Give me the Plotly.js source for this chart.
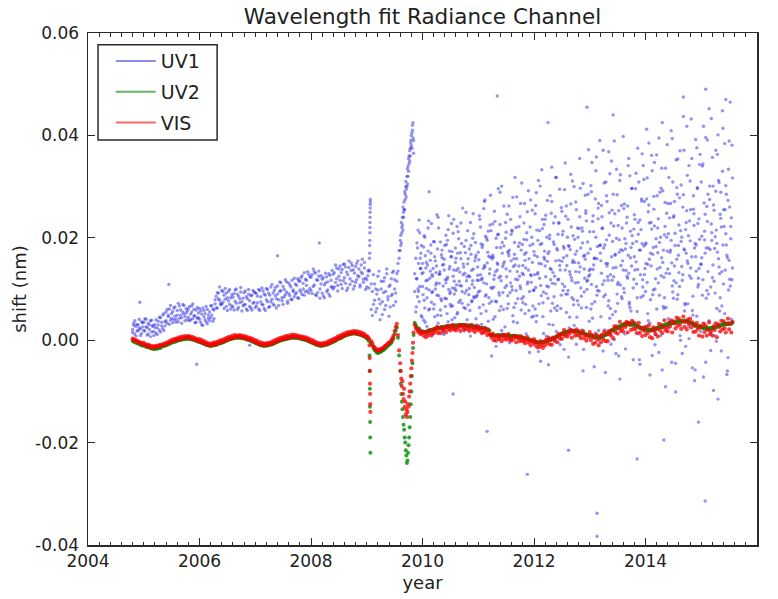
<!DOCTYPE html>
<html>
<head>
<meta charset="utf-8">
<script src="https://cdn.plot.ly/plotly-3.0.1.min.js"></script>
<style>html,body{margin:0;padding:0;background:#fff;}#chart{width:778px;height:599px;}</style>
</head>
<body>
<div id="chart"></div>
<script>
// Observation dates (decimal year), shared by the three channels
const obsYear = [
2004.80,2004.82,2004.84,2004.86,2004.88,2004.90,2004.92,2004.94,2004.96,2004.98,
2005.00,2005.02,2005.04,2005.06,2005.08,2005.10,2005.12,2005.14,2005.16,2005.18,
2005.20,2005.22,2005.24,2005.26,2005.28,2005.30,2005.32,2005.34,2005.36,2005.38,
2005.40,2005.42,2005.44,2005.46,2005.48,2005.50,2005.52,2005.54,2005.56,2005.58,
2005.60,2005.62,2005.64,2005.66,2005.68,2005.70,2005.72,2005.74,2005.76,2005.78,
2005.80,2005.82,2005.84,2005.86,2005.88,2005.90,2005.92,2005.94,2005.96,2005.98,
2006.00,2006.02,2006.04,2006.06,2006.08,2006.10,2006.12,2006.14,2006.16,2006.18,
2006.20,2006.22,2006.24,2006.26,2006.28,2006.30,2006.32,2006.34,2006.36,2006.38,
2006.40,2006.42,2006.44,2006.46,2006.48,2006.50,2006.52,2006.54,2006.56,2006.58,
2006.60,2006.62,2006.64,2006.66,2006.68,2006.70,2006.72,2006.74,2006.76,2006.78,
2006.80,2006.82,2006.84,2006.86,2006.88,2006.90,2006.92,2006.94,2006.96,2006.98,
2007.00,2007.02,2007.04,2007.06,2007.08,2007.10,2007.12,2007.14,2007.16,2007.18,
2007.20,2007.22,2007.24,2007.26,2007.28,2007.30,2007.32,2007.34,2007.36,2007.38,
2007.40,2007.42,2007.44,2007.46,2007.48,2007.50,2007.52,2007.54,2007.56,2007.58,
2007.60,2007.62,2007.64,2007.66,2007.68,2007.70,2007.72,2007.74,2007.76,2007.78,
2007.80,2007.82,2007.84,2007.86,2007.88,2007.90,2007.92,2007.94,2007.96,2007.98,
2008.00,2008.02,2008.04,2008.06,2008.08,2008.10,2008.12,2008.14,2008.16,2008.18,
2008.20,2008.22,2008.24,2008.26,2008.28,2008.30,2008.32,2008.34,2008.36,2008.38,
2008.40,2008.42,2008.44,2008.46,2008.48,2008.50,2008.52,2008.54,2008.56,2008.58,
2008.60,2008.62,2008.64,2008.66,2008.68,2008.70,2008.72,2008.74,2008.76,2008.78,
2008.80,2008.82,2008.84,2008.86,2008.88,2008.90,2008.92,2008.94,2008.96,2008.98,
2009.00,2009.02,2009.04,2009.050,2009.053,2009.056,2009.058,2009.060,2009.062,2009.065,
2009.08,2009.10,2009.12,2009.14,2009.16,2009.18,2009.20,2009.22,2009.24,2009.26,
2009.28,2009.30,2009.32,2009.34,2009.36,2009.38,2009.40,2009.42,2009.44,2009.46,
2009.48,2009.50,2009.52,2009.54,2009.56,2009.58,2009.60,2009.61,2009.62,2009.63,
2009.64,2009.65,2009.66,2009.67,2009.68,2009.69,2009.70,2009.71,2009.72,2009.73,
2009.74,2009.75,2009.76,2009.77,2009.78,2009.79,2009.80,2009.81,2009.82,2009.83,
2009.84,2009.86,2009.88,2009.90,2009.92,2009.94,2009.96,2009.98,
2010.00,2010.02,2010.04,2010.06,2010.08,2010.10,2010.12,2010.14,2010.16,2010.18,
2010.20,2010.22,2010.24,2010.26,2010.28,2010.30,2010.32,2010.34,2010.36,2010.38,
2010.40,2010.42,2010.44,2010.46,2010.48,2010.50,2010.52,2010.54,2010.56,2010.58,
2010.60,2010.62,2010.64,2010.66,2010.68,2010.70,2010.72,2010.74,2010.76,2010.78,
2010.80,2010.82,2010.84,2010.86,2010.88,2010.90,2010.92,2010.94,2010.96,2010.98,
2011.00,2011.02,2011.04,2011.06,2011.08,2011.10,2011.12,2011.14,2011.16,2011.18,
2011.20,2011.22,2011.24,2011.26,2011.28,2011.30,2011.32,2011.34,2011.36,2011.38,
2011.40,2011.42,2011.44,2011.46,2011.48,2011.50,2011.52,2011.54,2011.56,2011.58,
2011.60,2011.62,2011.64,2011.66,2011.68,2011.70,2011.72,2011.74,2011.76,2011.78,
2011.80,2011.82,2011.84,2011.86,2011.88,2011.90,2011.92,2011.94,2011.96,2011.98,
2012.00,2012.02,2012.04,2012.06,2012.08,2012.10,2012.12,2012.14,2012.16,2012.18,
2012.20,2012.22,2012.24,2012.26,2012.28,2012.30,2012.32,2012.34,2012.36,2012.38,
2012.40,2012.42,2012.44,2012.46,2012.48,2012.50,2012.52,2012.54,2012.56,2012.58,
2012.60,2012.62,2012.64,2012.66,2012.68,2012.70,2012.72,2012.74,2012.76,2012.78,
2012.80,2012.82,2012.84,2012.86,2012.88,2012.90,2012.92,2012.94,2012.96,2012.98,
2013.00,2013.02,2013.04,2013.06,2013.08,2013.10,2013.12,2013.14,2013.16,2013.18,
2013.20,2013.22,2013.24,2013.26,2013.28,2013.30,2013.32,2013.34,2013.36,2013.38,
2013.40,2013.42,2013.44,2013.46,2013.48,2013.50,2013.52,2013.54,2013.56,2013.58,
2013.60,2013.62,2013.64,2013.66,2013.68,2013.70,2013.72,2013.74,2013.76,2013.78,
2013.80,2013.82,2013.84,2013.86,2013.88,2013.90,2013.92,2013.94,2013.96,2013.98,
2014.00,2014.02,2014.04,2014.06,2014.08,2014.10,2014.12,2014.14,2014.16,2014.18,
2014.20,2014.22,2014.24,2014.26,2014.28,2014.30,2014.32,2014.34,2014.36,2014.38,
2014.40,2014.42,2014.44,2014.46,2014.48,2014.50,2014.52,2014.54,2014.56,2014.58,
2014.60,2014.62,2014.64,2014.66,2014.68,2014.70,2014.72,2014.74,2014.76,2014.78,
2014.80,2014.82,2014.84,2014.86,2014.88,2014.90,2014.92,2014.94,2014.96,2014.98,
2015.00,2015.02,2015.04,2015.06,2015.08,2015.10,2015.12,2015.14,2015.16,2015.18,
2015.20,2015.22,2015.24,2015.26,2015.28,2015.30,2015.32,2015.34,2015.36,2015.38,
2015.40,2015.42,2015.44,2015.46,2015.48,2015.50,2015.52,2015.54,2015.56
];

// VIS channel shift (nm)
const visShift = [
.0003,.0000,.0001,-.0002,-.0001,-.0004,-.0003,-.0006,-.0005,-.0008,
-.0005,-.0009,-.0008,-.0012,-.0009,-.0010,-.0014,-.0011,-.0015,-.0012,
-.0014,-.0011,-.0013,-.0010,-.0012,-.0009,-.0011,-.0008,-.0009,-.0006,
-.0008,-.0004,-.0006,-.0002,-.0004,.0000,-.0002,.0002,-.0001,.0003,
.0001,.0005,.0002,.0006,.0003,.0007,.0004,.0008,.0005,.0007,
.0008,.0005,.0007,.0003,.0006,.0002,.0004,.0000,.0002,-.0002,
.0002,-.0003,.0000,-.0005,-.0002,-.0007,-.0004,-.0009,-.0006,-.0010,
-.0007,-.0010,-.0005,-.0009,-.0004,-.0008,-.0003,-.0006,-.0001,-.0004,
.0000,-.0003,.0002,-.0001,.0004,.0001,.0006,.0003,.0007,.0004,
.0009,.0005,.0010,.0006,.0009,.0007,.0010,.0006,.0009,.0005,
.0008,.0004,.0007,.0002,.0005,.0001,.0004,-.0001,.0002,-.0003,
.0000,-.0005,-.0002,-.0007,-.0004,-.0009,-.0005,-.0010,-.0006,-.0009,
-.0006,-.0009,-.0005,-.0008,-.0004,-.0007,-.0002,-.0005,.0000,-.0003,
.0002,-.0001,.0004,.0001,.0005,.0002,.0007,.0003,.0008,.0004,
.0009,.0005,.0010,.0007,.0011,.0006,.0010,.0007,.0009,.0005,
.0008,.0004,.0007,.0003,.0006,.0002,.0005,.0000,.0003,-.0002,
.0001,-.0004,-.0001,-.0006,-.0003,-.0008,-.0005,-.0009,-.0006,-.0010,
-.0006,-.0009,-.0005,-.0008,-.0004,-.0007,-.0002,-.0005,.0000,-.0003,
.0002,-.0001,.0004,.0002,.0007,.0004,.0009,.0006,.0011,.0008,
.0013,.0010,.0015,.0012,.0016,.0013,.0017,.0014,.0018,.0015,
.0018,.0013,.0017,.0012,.0016,.0011,.0014,.0009,.0012,.0007,
.0008,.0006,.0003,-.0010,-.0035,-.0060,-.0085,-.0105,-.0125,-.0140,
-.0002,-.0006,-.0012,-.0014,-.0017,-.0019,-.0021,-.0018,-.0020,-.0017,
-.0016,-.0015,-.0012,-.0011,-.0009,-.0006,-.0005,-.0003,.0000,.0004,
.0009,.0018,.0026,.0032,.0010,-.0020,-.0045,-.0060,-.0075,-.0090,
-.0080,-.0105,-.0115,-.0095,-.0130,-.0120,-.0145,-.0135,-.0150,-.0140,
-.0125,-.0130,-.0110,-.0100,-.0085,-.0070,-.0055,-.0040,-.0025,-.0005,
.0015,.0030,.0024,.0021,.0016,.0019,.0012,.0014,
.0017,.0009,.0015,.0006,.0014,.0009,.0019,.0014,.0009,.0020,
.0014,.0022,.0017,.0026,.0014,.0022,.0014,.0025,.0021,.0019,
.0024,.0015,.0028,.0021,.0027,.0019,.0024,.0030,.0021,.0023,
.0019,.0027,.0023,.0030,.0018,.0028,.0026,.0021,.0030,.0022,
.0028,.0022,.0018,.0025,.0030,.0020,.0024,.0016,.0025,.0021,
.0027,.0019,.0023,.0014,.0021,.0015,.0024,.0017,.0010,.0019,
.0012,.0010,.0005,.0013,.0000,.0007,-.0001,.0009,.0005,.0002,
.0007,-.0002,.0011,.0003,.0009,.0001,.0006,.0012,.0001,.0003,
-.0001,.0007,.0003,.0008,-.0004,.0006,.0004,-.0002,.0008,-.0001,
.0005,-.0002,-.0006,.0001,.0006,-.0005,-.0001,-.0010,-.0001,-.0005,
.0002,-.0009,-.0003,-.0014,-.0007,-.0013,-.0002,-.0009,-.0015,-.0003,
-.0010,.0001,-.0005,.0005,-.0008,.0000,-.0009,.0005,.0001,-.0002,
.0006,-.0004,.0012,.0004,.0012,.0003,.0011,.0020,.0008,.0011,
.0007,.0017,.0013,.0020,.0005,.0018,.0015,.0009,.0021,.0010,
.0018,.0009,.0004,.0013,.0018,.0004,.0010,-.0001,.0010,.0006,
.0016,.0000,.0010,-.0007,.0005,-.0005,.0011,.0001,-.0010,.0007,
-.0004,.0011,.0002,.0017,-.0002,.0011,-.0002,.0018,.0012,.0009,
.0019,.0004,.0027,.0015,.0027,.0013,.0023,.0036,.0018,.0023,
.0017,.0031,.0026,.0036,.0015,.0034,.0030,.0020,.0038,.0022,
.0034,.0022,.0014,.0027,.0034,.0015,.0023,.0008,.0024,.0018,
.0010,.0026,.0014,.0029,.0006,.0019,.0004,.0025,.0018,.0012,
.0023,.0007,.0032,.0019,.0030,.0014,.0025,.0039,.0019,.0024,
.0017,.0034,.0027,.0039,.0015,.0037,.0033,.0023,.0044,.0028,
.0042,.0030,.0022,.0037,.0046,.0026,.0036,.0021,.0040,.0032,
.0042,.0025,.0035,.0016,.0028,.0017,.0034,.0022,.0009,.0028,
.0026,.0007,.0032,.0016,.0028,.0009,.0020,.0035,.0012,.0018,
.0009,.0027,.0020,.0033,.0006,.0031,.0026,.0017,.0038,.0021,
.0037,.0023,.0015,.0032,.0042,.0021,.0032,.0015,.0036
];

// UV2 channel shift (nm)
const uv2Shift = [
-.0001,-.0003,-.0003,-.0005,-.0005,-.0007,-.0007,-.0009,-.0009,-.0011,
-.0010,-.0011,-.0013,-.0013,-.0014,-.0014,-.0015,-.0016,-.0016,-.0017,
-.0016,-.0017,-.0015,-.0016,-.0014,-.0015,-.0013,-.0012,-.0011,-.0011,
-.0010,-.0009,-.0008,-.0007,-.0006,-.0005,-.0004,-.0003,-.0003,-.0002,
-.0001,.0000,.0000,.0001,.0001,.0002,.0002,.0003,.0003,.0003,
.0003,.0003,.0002,.0002,.0001,.0001,.0000,-.0001,-.0002,-.0003,
-.0003,-.0004,-.0005,-.0006,-.0007,-.0008,-.0009,-.0010,-.0010,-.0011,
-.0011,-.0011,-.0010,-.0010,-.0009,-.0009,-.0008,-.0007,-.0006,-.0006,
-.0005,-.0004,-.0003,-.0002,-.0001,.0000,.0001,.0002,.0002,.0003,
.0004,.0004,.0005,.0005,.0005,.0005,.0005,.0005,.0004,.0004,
.0004,.0003,.0002,.0001,.0001,.0000,-.0001,-.0002,-.0003,-.0004,
-.0005,-.0006,-.0007,-.0008,-.0009,-.0010,-.0010,-.0011,-.0011,-.0011,
-.0011,-.0010,-.0010,-.0009,-.0009,-.0008,-.0007,-.0006,-.0005,-.0004,
-.0003,-.0002,-.0001,.0000,.0000,.0001,.0002,.0002,.0003,.0003,
.0004,.0004,.0005,.0005,.0005,.0005,.0005,.0005,.0004,.0004,
.0004,.0003,.0002,.0002,.0001,.0001,.0000,-.0001,-.0002,-.0003,
-.0004,-.0005,-.0006,-.0007,-.0008,-.0009,-.0010,-.0010,-.0011,-.0011,
-.0011,-.0010,-.0010,-.0009,-.0009,-.0008,-.0007,-.0006,-.0005,-.0004,
-.0003,-.0002,-.0001,.0001,.0002,.0003,.0004,.0005,.0006,.0007,
.0008,.0009,.0010,.0011,.0011,.0012,.0012,.0013,.0013,.0013,
.0013,.0012,.0012,.0011,.0011,.0010,.0009,.0008,.0007,.0006,
.0004,.0002,-.0002,-.0030,-.0060,-.0095,-.0130,-.0160,-.0190,-.0220,
-.0006,-.0010,-.0015,-.0019,-.0021,-.0024,-.0025,-.0024,-.0023,-.0022,
-.0020,-.0019,-.0017,-.0015,-.0013,-.0011,-.0009,-.0007,-.0005,-.0001,
.0004,.0012,.0019,.0025,.0005,-.0030,-.0060,-.0085,-.0105,-.0120,
-.0135,-.0150,-.0165,-.0175,-.0190,-.0200,-.0215,-.0225,-.0240,-.0235,
-.0220,-.0205,-.0190,-.0170,-.0150,-.0125,-.0100,-.0070,-.0045,-.0015,
.0010,.0034,.0029,.0025,.0021,.0023,.0017,.0018,
.0015,.0016,.0016,.0017,.0017,.0018,.0018,.0019,.0020,.0021,
.0021,.0022,.0023,.0023,.0024,.0024,.0025,.0025,.0026,.0026,
.0026,.0027,.0026,.0027,.0028,.0027,.0028,.0027,.0028,.0029,
.0028,.0029,.0028,.0029,.0030,.0029,.0030,.0029,.0028,.0029,
.0028,.0029,.0028,.0027,.0028,.0027,.0026,.0027,.0026,.0025,
.0025,.0025,.0024,.0024,.0024,.0023,.0023,.0022,.0021,.0020,
.0019,.0010,.0010,.0010,.0009,.0009,.0009,.0009,.0010,.0009,
.0009,.0010,.0009,.0009,.0010,.0009,.0009,.0010,.0008,.0008,
.0008,.0008,.0009,.0007,.0007,.0008,.0007,.0006,.0006,.0005,
.0005,.0004,.0004,.0003,.0003,.0002,.0001,.0000,.0000,-.0001,
-.0002,-.0003,-.0003,-.0004,-.0004,-.0005,-.0004,-.0005,-.0003,-.0004,
-.0002,-.0002,.0000,.0000,.0002,.0001,.0003,.0004,.0005,.0006,
.0007,.0008,.0009,.0010,.0011,.0013,.0014,.0015,.0016,.0016,
.0017,.0017,.0018,.0018,.0019,.0018,.0018,.0018,.0017,.0017,
.0016,.0015,.0015,.0014,.0014,.0012,.0012,.0011,.0010,.0010,
.0010,.0007,.0009,.0006,.0008,.0005,.0007,.0006,.0005,.0007,
.0005,.0008,.0007,.0010,.0010,.0013,.0012,.0016,.0015,.0019,
.0020,.0019,.0022,.0021,.0025,.0024,.0027,.0026,.0029,.0028,
.0031,.0029,.0032,.0030,.0033,.0031,.0033,.0030,.0032,.0029,
.0031,.0028,.0029,.0026,.0027,.0024,.0025,.0022,.0023,.0021,
.0022,.0020,.0021,.0019,.0021,.0019,.0021,.0020,.0023,.0021,
.0024,.0023,.0026,.0025,.0027,.0026,.0029,.0028,.0031,.0029,
.0032,.0031,.0033,.0032,.0034,.0033,.0036,.0034,.0037,.0035,
.0038,.0036,.0037,.0038,.0036,.0037,.0038,.0036,.0037,.0035,
.0035,.0032,.0033,.0030,.0031,.0028,.0029,.0026,.0027,.0025,
.0026,.0024,.0025,.0023,.0025,.0022,.0024,.0022,.0024,.0023,
.0025,.0024,.0026,.0025,.0027,.0027,.0029,.0028,.0030,.0029,
.0032,.0030,.0032,.0031,.0033,.0031,.0033,.0032,.0034
];

// UV1 channel shift (nm), first retrieval per date
const uv1ShiftA = [
.0021,.0033,.0012,.0027,.0018,.0030,.0024,.0009,.0036,.0026,
.0035,.0018,.0041,.0025,.0012,.0030,.0038,.0016,.0027,.0009,
.0031,.0014,.0024,.0037,.0020,.0044,.0028,.0049,.0019,.0036,
.0055,.0033,.0046,.0061,.0039,.0052,.0034,.0063,.0047,.0041,
.0058,.0036,.0067,.0049,.0044,.0070,.0051,.0038,.0062,.0057,
.0045,.0066,.0040,.0055,.0071,.0048,.0034,.0059,.0043,.0053,
.0062,.0035,.0051,.0029,.0058,.0040,.0066,.0032,.0049,.0055,
.0044,.0068,.0037,.0059,.0071,.0086,.0063,.0092,.0078,.0069,
.0097,.0074,.0088,.0101,.0066,.0083,.0095,.0070,.0061,.0089,
.0084,.0059,.0098,.0072,.0090,.0064,.0081,.0103,.0075,.0067,
.0093,.0070,.0085,.0058,.0099,.0077,.0063,.0088,.0072,.0094,
.0064,.0091,.0073,.0099,.0058,.0085,.0070,.0096,.0062,.0088,
.0101,.0075,.0092,.0066,.0104,.0080,.0071,.0097,.0087,.0063,
.0106,.0079,.0095,.0112,.0083,.0070,.0099,.0089,.0114,.0076,
.0091,.0108,.0080,.0117,.0098,.0085,.0110,.0093,.0120,.0082,
.0115,.0094,.0126,.0100,.0088,.0119,.0107,.0096,.0129,.0101,
.0097,.0128,.0105,.0134,.0089,.0118,.0093,.0125,.0082,.0110,
.0119,.0087,.0108,.0131,.0095,.0114,.0090,.0127,.0104,.0136,
.0100,.0132,.0113,.0141,.0107,.0125,.0145,.0109,.0138,.0116,
.0149,.0111,.0133,.0102,.0142,.0120,.0151,.0115,.0137,.0106,
.0144,.0118,.0155,.0124,.0108,.0147,.0130,.0113,.0152,.0121,
.0118,.0135,.0102,.0160,.0185,.0210,.0230,.0250,.0265,.0275,
.0060,.0095,.0070,.0110,.0055,.0090,.0125,.0080,.0040,.0100,
.0075,.0115,.0060,.0095,.0130,.0085,.0105,.0065,.0120,.0090,
.0135,.0100,.0075,.0115,.0135,.0160,.0175,.0205,.0190,.0220,
.0240,.0215,.0250,.0270,.0255,.0285,.0300,.0280,.0320,.0305,
.0340,.0330,.0360,.0350,.0375,.0390,.0380,.0405,.0420,.0395,
.0365,.0095,.0160,.0120,.0215,.0075,.0140,.0185,
.0105,.0182,.0063,.0141,.0027,.0219,.0098,.0156,.0074,.0125,
.0193,.0046,.0132,.0088,.0240,.0111,.0059,.0167,.0015,.0148,
.0082,.0205,.0119,.0036,.0174,.0094,.0228,.0067,.0137,.0101,
.0160,.0051,.0212,.0115,.0078,.0189,.0031,.0143,.0092,.0250,
.0124,.0069,.0178,.0008,.0136,.0199,.0085,.0155,.0042,.0117,
.0172,.0064,.0221,.0118,.0015,.0257,.0143,.0089,.0195,.0037,
.0130,.0283,.0076,.0166,.0104,.0232,-.0012,.0151,.0207,.0058,
.0125,.0301,.0093,.0184,.0026,.0139,.0246,.0071,.0176,.0112,
.0215,.0048,.0159,.0318,.0097,.0134,.0003,.0190,.0267,.0081,
.0146,.0229,.0052,.0171,.0110,.0292,-.0024,.0128,.0201,.0067,
.0098,.0247,.0036,.0163,.0312,.0121,-.0041,.0189,.0073,.0226,
.0145,.0008,.0273,.0104,.0198,.0057,.0338,.0132,.0085,.0241,
.0017,.0176,.0119,.0295,.0062,.0154,.0213,-.0018,.0137,.0262,
.0090,.0185,.0045,.0324,.0116,.0204,.0029,.0168,.0255,.0077,
.0151,.0355,.0102,.0219,-.0060,.0139,.0283,.0064,.0192,.0125,
.0212,.0061,.0347,.0138,-.0052,.0276,.0105,.0183,.0019,.0390,
.0155,.0241,-.0021,.0307,.0089,.0196,.0124,.0368,.0043,.0229,
.0117,.0285,.0001,.0168,.0334,.0072,.0253,-.0076,.0146,.0219,
.0398,.0093,.0178,.0034,.0262,.0131,.0321,.0057,.0204,-.0038,
.0163,.0296,.0110,.0375,.0012,.0235,.0084,.0189,.0341,.0128,
.0187,.0412,.0052,.0264,-.0068,.0145,.0331,.0098,.0223,.0011,
.0362,.0171,-.0024,.0289,.0126,.0425,.0066,.0206,-.0091,.0248,
.0139,.0318,.0037,.0195,.0394,.0082,.0271,-.0045,.0158,.0354,
.0225,.0009,.0303,.0117,.0437,.0176,-.0012,.0253,.0071,.0341,
.0194,.0432,.0058,.0282,-.0079,.0163,.0376,.0104,.0237,.0026,
.0309,.0088,.0418,.0196,-.0043,.0261,.0134,.0452,.0015,.0227,
.0357,-.0098,.0179,.0291,.0062,.0401,.0143,.0246,-.0021,.0330,
.0110,.0384,.0208,-.0067,.0273,.0156,.0465,.0041,.0317
];

// UV1 channel shift (nm), second retrieval per date
const uv1ShiftB = [
.0015,.0029,.0038,.0008,.0031,.0019,.0041,.0022,.0013,.0034,
.0019,.0042,.0026,.0010,.0033,.0021,.0007,.0039,.0029,.0017,
.0025,.0040,.0011,.0030,.0045,.0016,.0035,.0023,.0052,.0028,
.0038,.0060,.0049,.0031,.0068,.0043,.0056,.0040,.0065,.0035,
.0049,.0072,.0043,.0059,.0033,.0055,.0068,.0046,.0053,.0040,
.0061,.0038,.0051,.0067,.0042,.0060,.0047,.0035,.0064,.0044,
.0041,.0057,.0030,.0063,.0046,.0052,.0036,.0060,.0043,.0038,
.0067,.0049,.0061,.0042,.0079,.0063,.0093,.0081,.0104,.0072,
.0070,.0095,.0062,.0080,.0092,.0058,.0077,.0099,.0083,.0067,
.0065,.0091,.0076,.0100,.0060,.0086,.0073,.0094,.0057,.0082,
.0069,.0096,.0061,.0081,.0090,.0066,.0087,.0059,.0097,.0074,
.0093,.0067,.0086,.0061,.0097,.0075,.0102,.0069,.0090,.0058,
.0079,.0099,.0064,.0088,.0075,.0109,.0092,.0068,.0103,.0081,
.0090,.0068,.0114,.0097,.0077,.0105,.0085,.0118,.0094,.0072,
.0112,.0087,.0104,.0079,.0095,.0121,.0090,.0107,.0083,.0116,
.0098,.0122,.0089,.0111,.0132,.0095,.0117,.0134,.0092,.0124,
.0123,.0091,.0139,.0108,.0131,.0087,.0117,.0135,.0100,.0126,
.0092,.0122,.0083,.0112,.0124,.0098,.0130,.0086,.0117,.0104,
.0129,.0104,.0147,.0120,.0096,.0139,.0117,.0132,.0101,.0148,
.0122,.0143,.0097,.0128,.0155,.0109,.0136,.0146,.0100,.0131,
.0113,.0150,.0126,.0139,.0104,.0133,.0158,.0119,.0141,.0099,
.0104,.0126,.0137,.0135,.0170,.0195,.0220,.0240,.0258,.0270,
.0110,.0048,.0128,.0078,.0100,.0062,.0098,.0135,.0071,.0115,
.0050,.0093,.0122,.0068,.0139,.0079,.0047,.0108,.0087,.0132,
.0068,.0118,.0092,.0130,.0150,.0175,.0195,.0185,.0230,.0210,
.0225,.0260,.0240,.0255,.0290,.0275,.0310,.0295,.0300,.0335,
.0320,.0355,.0345,.0370,.0360,.0385,.0400,.0375,.0410,.0425,
.0390,.0130,.0055,.0190,.0100,.0235,.0160,.0048,
.0150,.0039,.0201,.0116,.0083,.0174,.0021,.0135,.0228,.0095,
.0061,.0163,.0108,.0245,.0033,.0129,.0192,.0077,.0147,.0011,
.0185,.0112,.0052,.0216,.0139,.0070,.0163,.0102,.0236,.0044,
.0097,.0222,.0140,.0026,.0171,.0106,.0258,.0064,.0131,.0195,
.0040,.0159,.0101,.0230,.0075,.0116,.0208,.0029,.0166,.0088,
.0094,.0243,.0128,.0031,.0186,.0112,.0274,.0057,.0151,.0213,
.0072,.0162,-.0031,.0227,.0119,.0046,.0199,.0137,.0296,.0088,
.0181,.0019,.0144,.0262,.0103,.0211,.0062,.0170,-.0005,.0236,
.0105,.0279,.0064,.0147,.0220,.0034,.0183,.0125,.0101,.0307,
.0073,.0197,.0156,.0012,.0251,.0137,.0095,.0274,.0045,.0188,
.0173,.0061,.0288,.0129,-.0022,.0214,.0107,.0333,.0046,.0162,
.0236,.0091,.0154,-.0048,.0205,.0118,.0271,.0030,.0187,.0110,
.0318,.0067,.0229,.0146,.0002,.0252,.0097,.0179,.0346,.0054,
.0201,-.0033,.0134,.0266,.0083,.0156,.0300,.0112,-.0008,.0219,
.0069,.0241,.0180,.0020,.0306,.0094,.0158,.0233,.0117,.0372,
.0128,.0302,.0071,.0243,.0160,.0014,.0358,.0097,.0267,.0185,
.0046,.0218,.0371,.0116,-.0063,.0282,.0150,.0077,.0325,-.0008,
.0254,.0141,.0389,.0056,.0199,.0109,-.0031,.0312,.0177,.0081,
.0137,.0266,-.0017,.0229,.0121,.0355,.0064,.0181,.0297,.0102,
.0245,.0032,.0193,.0138,.0309,-.0047,.0216,.0364,.0087,.0271,
.0095,.0276,.0148,.0385,.0033,.0230,-.0030,.0181,.0347,.0120,
.0061,.0219,.0395,.0142,.0297,-.0058,.0176,.0083,.0336,.0201,
.0267,.0024,.0172,.0409,.0106,.0240,.0145,-.0101,.0298,.0089,
.0132,.0370,.0193,-.0026,.0284,.0057,.0216,.0418,.0150,.0003,
.0311,.0121,-.0054,.0256,.0180,.0392,.0047,.0228,.0140,.0363,
.0148,.0340,-.0072,.0213,.0396,.0097,.0285,.0038,.0177,.0433,
.0122,.0264,.0009,.0371,.0189,-.0115,.0308,.0083,.0221,.0448,
.0255,.0052,.0302,.0166,-.0034,.0389,.0106,.0239,.0141
];

// Additional UV1 retrievals after the 2009 instrument change
const lateYear = [
2009.89,2009.91,2009.93,2009.95,2009.97,2009.99,
2010.01,2010.03,2010.05,2010.07,2010.09,2010.11,2010.13,2010.15,2010.17,2010.19,
2010.21,2010.23,2010.25,2010.27,2010.29,2010.31,2010.33,2010.35,2010.37,2010.39,
2010.41,2010.43,2010.45,2010.47,2010.49,2010.51,2010.53,2010.55,2010.57,2010.59,
2010.61,2010.63,2010.65,2010.67,2010.69,2010.71,2010.73,2010.75,2010.77,2010.79,
2010.81,2010.83,2010.85,2010.87,2010.89,2010.91,2010.93,2010.95,2010.97,2010.99,
2011.01,2011.03,2011.05,2011.07,2011.09,2011.11,2011.13,2011.15,2011.17,2011.19,
2011.21,2011.23,2011.25,2011.27,2011.29,2011.31,2011.33,2011.35,2011.37,2011.39,
2011.41,2011.43,2011.45,2011.47,2011.49,2011.51,2011.53,2011.55,2011.57,2011.59,
2011.61,2011.63,2011.65,2011.67,2011.69,2011.71,2011.73,2011.75,2011.77,2011.79,
2011.81,2011.83,2011.85,2011.87,2011.89,2011.91,2011.93,2011.95,2011.97,2011.99,
2012.01,2012.03,2012.05,2012.07,2012.09,2012.11,2012.13,2012.15,2012.17,2012.19,
2012.21,2012.23,2012.25,2012.27,2012.29,2012.31,2012.33,2012.35,2012.37,2012.39,
2012.41,2012.43,2012.45,2012.47,2012.49,2012.51,2012.53,2012.55,2012.57,2012.59,
2012.61,2012.63,2012.65,2012.67,2012.69,2012.71,2012.73,2012.75,2012.77,2012.79,
2012.81,2012.83,2012.85,2012.87,2012.89,2012.91,2012.93,2012.95,2012.97,2012.99,
2013.01,2013.03,2013.05,2013.07,2013.09,2013.11,2013.13,2013.15,2013.17,2013.19,
2013.21,2013.23,2013.25,2013.27,2013.29,2013.31,2013.33,2013.35,2013.37,2013.39,
2013.41,2013.43,2013.45,2013.47,2013.49,2013.51,2013.53,2013.55,2013.57,2013.59,
2013.61,2013.63,2013.65,2013.67,2013.69,2013.71,2013.73,2013.75,2013.77,2013.79,
2013.81,2013.83,2013.85,2013.87,2013.89,2013.91,2013.93,2013.95,2013.97,2013.99,
2014.01,2014.03,2014.05,2014.07,2014.09,2014.11,2014.13,2014.15,2014.17,2014.19,
2014.21,2014.23,2014.25,2014.27,2014.29,2014.31,2014.33,2014.35,2014.37,2014.39,
2014.41,2014.43,2014.45,2014.47,2014.49,2014.51,2014.53,2014.55,2014.57,2014.59,
2014.61,2014.63,2014.65,2014.67,2014.69,2014.71,2014.73,2014.75,2014.77,2014.79,
2014.81,2014.83,2014.85,2014.87,2014.89,2014.91,2014.93,2014.95,2014.97,2014.99,
2015.01,2015.03,2015.05,2015.07,2015.09,2015.11,2015.13,2015.15,2015.17,2015.19,
2015.21,2015.23,2015.25,2015.27,2015.29,2015.31,2015.33,2015.35,2015.37,2015.39,
2015.41,2015.43,2015.45,2015.47,2015.49,2015.51,2015.53,2015.55
];

const uv1ShiftC = [
.0120,.0085,.0150,.0105,.0170,.0130,
.0132,.0078,.0165,.0101,.0147,.0059,.0121,.0186,.0093,.0140,
.0070,.0155,.0112,.0178,.0087,.0129,.0048,.0161,.0106,.0137,
.0118,.0081,.0195,.0099,.0144,.0066,.0173,.0125,.0090,.0152,
.0108,.0170,.0074,.0133,.0159,.0095,.0128,.0183,.0062,.0116,
.0149,.0089,.0124,.0168,.0077,.0139,.0103,.0191,.0085,.0127,
.0157,.0096,.0188,.0121,.0069,.0146,.0203,.0110,.0172,.0083,
.0139,.0214,.0101,.0162,.0127,.0076,.0181,.0148,.0093,.0226,
.0116,.0170,.0060,.0153,.0199,.0124,.0087,.0165,.0135,.0207,
.0098,.0144,.0191,.0072,.0159,.0118,.0222,.0106,.0176,.0131,
.0085,.0168,.0141,.0210,.0114,.0058,.0185,.0126,.0152,.0097,
.0166,.0103,.0215,.0132,.0071,.0187,.0149,.0236,.0094,.0158,
.0124,.0201,.0082,.0173,.0140,.0248,.0111,.0192,.0063,.0155,
.0179,.0118,.0229,.0137,.0088,.0206,.0161,.0105,.0242,.0146,
.0097,.0183,.0128,.0221,.0152,.0069,.0197,.0134,.0174,.0113,
.0218,.0143,.0086,.0190,.0164,.0121,.0253,.0099,.0170,.0136,
.0178,.0109,.0232,.0147,.0075,.0201,.0159,.0258,.0096,.0170,
.0131,.0219,.0085,.0186,.0150,.0271,.0117,.0205,.0062,.0163,
.0193,.0124,.0247,.0142,.0090,.0224,.0172,.0108,.0263,.0155,
.0101,.0198,.0136,.0240,.0166,.0070,.0213,.0145,.0189,.0119,
.0236,.0153,.0083,.0207,.0176,.0128,.0276,.0104,.0184,.0140,
.0190,.0113,.0251,.0158,.0079,.0217,.0168,.0281,.0100,.0183,
.0139,.0237,.0088,.0201,.0161,.0292,.0123,.0222,.0064,.0174,
.0208,.0130,.0267,.0151,.0094,.0243,.0185,.0112,.0285,.0166,
.0105,.0214,.0144,.0260,.0178,.0072,.0230,.0155,.0204,.0126,
.0255,.0163,.0086,.0224,.0189,.0135,.0298,.0109,.0197,.0149,
.0203,.0118,.0268,.0170,.0082,.0232,.0180,.0301,.0104,.0195,
.0147,.0254,.0092,.0215,.0172,.0312,.0130,.0238,.0067,.0186,
.0222,.0137,.0285,.0161,.0098,.0260,.0198,.0118
];

const uv1ShiftD = [
.0065,.0180,.0095,.0210,.0140,.0045,
.0089,.0204,.0035,.0152,.0117,.0233,.0061,.0170,.0128,.0012,
.0192,.0100,.0145,.0049,.0219,.0134,.0081,.0176,.0027,.0158,
.0066,.0187,.0123,.0243,.0091,.0163,.0040,.0209,.0115,.0180,
.0136,.0054,.0198,.0107,.0229,.0072,.0149,.0018,.0171,.0097,
.0214,.0126,.0058,.0185,.0109,.0247,.0083,.0161,.0030,.0143,
.0117,.0236,.0052,.0181,.0140,.0271,.0086,.0199,.0023,.0164,
.0225,.0103,.0159,.0041,.0252,.0134,.0075,.0206,.0122,.0289,
.0066,.0191,.0149,.0011,.0230,.0107,.0173,.0262,.0093,.0155,
.0213,.0036,.0168,.0119,.0280,.0081,.0145,.0241,.0059,.0187,
.0128,.0267,.0070,.0196,.0002,.0159,.0221,.0113,.0254,.0047,
.0128,.0263,.0048,.0195,.0150,.0301,.0087,.0218,.0013,.0174,
.0244,.0106,.0169,.0031,.0282,.0138,.0072,.0229,.0125,.0318,
.0058,.0207,.0156,-.0009,.0259,.0110,.0183,.0294,.0090,.0165,
.0236,.0024,.0177,.0122,.0311,.0079,.0152,.0270,.0045,.0201,
.0133,.0297,.0063,.0213,-.0018,.0166,.0248,.0115,.0285,.0037,
.0139,.0290,.0043,.0212,.0160,.0331,.0088,.0237,.0002,.0186,
.0263,.0109,.0180,.0020,.0309,.0145,.0067,.0249,.0128,.0350,
.0050,.0223,.0166,-.0026,.0284,.0113,.0196,.0323,.0085,.0175,
.0257,.0012,.0189,.0125,.0341,.0074,.0161,.0296,.0036,.0217,
.0137,.0326,.0056,.0230,-.0038,.0176,.0272,.0118,.0314,.0027,
.0150,.0317,.0038,.0229,.0170,.0361,.0089,.0256,-.0009,.0198,
.0282,.0112,.0191,.0009,.0336,.0152,.0062,.0269,.0131,.0382,
.0042,.0239,.0176,-.0043,.0309,.0116,.0209,.0352,.0080,.0185,
.0278,.0000,.0201,.0128,.0371,.0069,.0170,.0322,.0027,.0233,
.0141,.0355,.0049,.0247,-.0058,.0186,.0296,.0121,.0343,.0017,
.0161,.0344,.0033,.0246,.0180,.0391,.0090,.0275,-.0020,.0210,
.0301,.0115,.0202,-.0002,.0363,.0159,.0057,.0289,.0134,.0414,
.0034,.0255,.0186,-.0060,.0334,.0119,.0222,.0381
];

// Isolated UV1 outliers
const uv1OutlierYear  = [2004.93,2005.45,2005.95,2006.90,2007.40,2008.15,2010.12,2010.55,2011.16,2011.34,2011.88,2012.25,2012.62,2012.95,2013.13,2013.13,2013.42,2013.85,2014.33,2014.68,2014.95,2015.07,2015.08,2015.44];
const uv1OutlierShift = [.0074,.0109,-.0047,-.0010,.0165,.0190,.0290,-.0105,-.0178,.0477,-.0262,.0425,-.0215,.0455,-.0338,-.0383,.0440,-.0232,-.0195,.0475,-.0160,-.0314,.0490,.0470];

// Axis ticks and labels
const xTickVals = [2004,2006,2008,2010,2012,2014,2016];
const xTickText = ['2004','2006','2008','2010','2012','2014','2016'];
const yTickVals = [-0.04,-0.02,0.00,0.02,0.04,0.06];
const yTickText = ['-0.04','-0.02','0.00','0.02','0.04','0.06'];
const seriesNames = ['UV1','UV2','VIS'];

const axisColor = '#2a2a2a';
const traces = [
  {type:'scatter', mode:'markers', showlegend:false, hoverinfo:'skip',
   x: obsYear.concat(obsYear, lateYear, lateYear, uv1OutlierYear),
   y: uv1ShiftA.concat(uv1ShiftB, uv1ShiftC, uv1ShiftD, uv1OutlierShift),
   marker:{size:3.4, color:'rgba(20,20,225,0.45)', line:{width:0}}},
  {type:'scatter', mode:'markers', showlegend:false, hoverinfo:'skip',
   x: obsYear, y: uv2Shift,
   marker:{size:4, color:'rgba(0,140,0,0.8)', line:{width:0}}},
  {type:'scatter', mode:'markers', showlegend:false, hoverinfo:'skip',
   x: obsYear, y: visShift,
   marker:{size:4.2, color:'rgba(250,0,0,0.75)', line:{width:0}}},
  {type:'scatter', mode:'lines', name:seriesNames[0], legendgroup:'a', x:[null], y:[null], line:{color:'rgba(90,90,230,0.7)', width:2}},
  {type:'scatter', mode:'lines', name:seriesNames[1], legendgroup:'b', x:[null], y:[null], line:{color:'rgba(40,150,40,0.7)', width:2}},
  {type:'scatter', mode:'lines', name:seriesNames[2], legendgroup:'c', x:[null], y:[null], line:{color:'rgba(240,40,40,0.7)', width:2}}
];

const layout = {
  width:778, height:599,
  margin:{l:88, r:21, t:33, b:54},
  paper_bgcolor:'#fff', plot_bgcolor:'#fff',
  font:{family:'"DejaVu Sans", sans-serif', color:'#222'},
  title:{text:'Wavelength fit Radiance Channel', font:{size:21.5, color:'#222'}, xref:'paper', x:0.5, xanchor:'center', yref:'container', y:0.972, yanchor:'middle'},
  xaxis:{range:[2004,2016], tickvals:xTickVals, ticktext:xTickText, ticks:'inside', ticklen:7, tickwidth:1, tickcolor:axisColor,
    showline:true, linecolor:axisColor, linewidth:1.5, mirror:'ticks', showgrid:false, zeroline:false,
    tickfont:{size:17, color:'#222'},
    minor:{tick0:2004, dtick:0.2, ticks:'inside', ticklen:3.5, tickcolor:axisColor, showgrid:false},
    title:{text:'year', font:{size:18, color:'#222'}, standoff:6}},
  yaxis:{range:[-0.04,0.06], tickvals:yTickVals, ticktext:yTickText, ticks:'inside', ticklen:7, tickwidth:1, tickcolor:axisColor,
    showline:true, linecolor:axisColor, linewidth:1.5, mirror:'ticks', showgrid:false, zeroline:false,
    tickfont:{size:17, color:'#222'}, ticklabelstandoff:4,
    title:{text:'shift (nm)', font:{size:18, color:'#222'}, standoff:4}},
  legend:{x:0.034, y:0.982, xanchor:'left', yanchor:'top', bgcolor:'rgba(0,0,0,0)', borderwidth:0,
    font:{size:19, color:'#222'}, tracegroupgap:3, itemwidth:40},
  shapes:[{type:'rect', xref:'paper', yref:'paper', x0:0.015, x1:0.193, y0:0.791, y1:0.977,
    line:{color:axisColor, width:1.5}, fillcolor:'rgba(255,255,255,0)', layer:'above'}]
};

Plotly.newPlot('chart', traces, layout, {displayModeBar:false, staticPlot:true});
</script>
</body>
</html>
